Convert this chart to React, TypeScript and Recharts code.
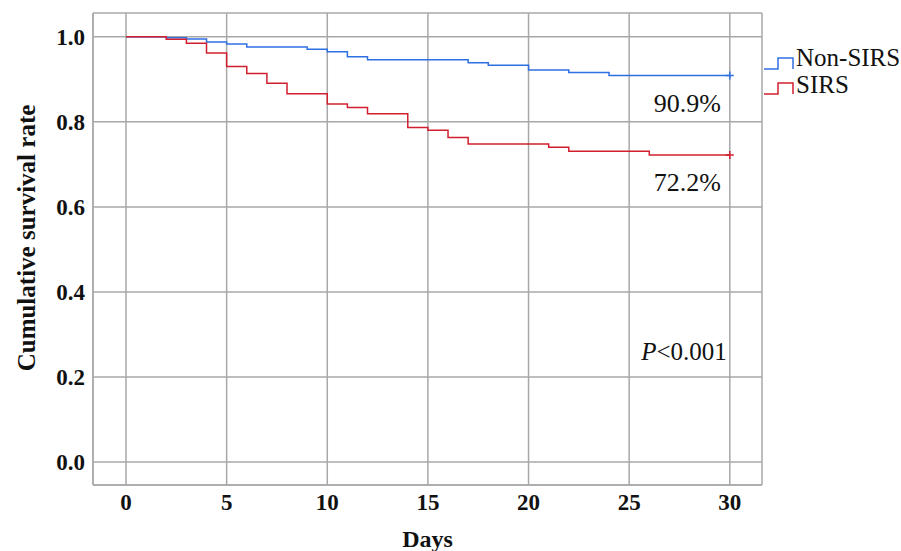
import * as React from 'react';
import {
  LineChart,
  Line,
  XAxis,
  YAxis,
  CartesianGrid,
  ReferenceDot,
} from 'recharts';

// Kaplan-Meier steps
const nonSirsDays = [0, 2, 3, 4, 5, 6, 9, 10, 11, 12, 17, 18, 20, 22, 24, 30];
const nonSirsSurvival = [1.0, 0.998, 0.995, 0.988, 0.983, 0.976, 0.971, 0.965, 0.953, 0.946, 0.939, 0.933, 0.922, 0.916, 0.909, 0.909];

const sirsDays = [0, 2, 3, 4, 5, 6, 7, 8, 10, 11, 12, 14, 15, 16, 17, 21, 22, 26, 30];
const sirsSurvival = [1.0, 0.994, 0.985, 0.962, 0.93, 0.914, 0.891, 0.866, 0.842, 0.834, 0.819, 0.787, 0.78, 0.763, 0.748, 0.74, 0.731, 0.722, 0.722];

const xTicks = [0, 5, 10, 15, 20, 25, 30];
const yTicks = [0, 0.2, 0.4, 0.6, 0.8, 1.0];

const seriesNames = ['Non-SIRS', 'SIRS'];
const endLabels = ['90.9%', '72.2%'];
const pValueText = '<0.001';

const BLUE = '#2f6fe4';
const RED = '#d21f2f';
const GRID = '#a8a8a8';
const FONT = '"Liberation Serif", "Times New Roman", serif';

const nonSirsData = nonSirsDays.map((d, i) => ({ day: d, value: nonSirsSurvival[i] }));
const sirsData = sirsDays.map((d, i) => ({ day: d, value: sirsSurvival[i] }));

function censorDot(color: string, label: string, count: number) {
  return (props: any) => {
    const { cx, cy, index } = props;
    if (index !== count - 1) return <g key={`d-${index}`} />;
    return (
      <g key={`d-${index}`}>
        <line x1={cx} x2={cx} y1={cy - 4} y2={cy + 4} stroke={color} strokeWidth={1.5} />
        <line x1={cx - 4} x2={cx + 4} y1={cy} y2={cy} stroke={color} strokeWidth={1.5} />
        <text x={cx - 9} y={cy + 36} textAnchor="end" fontFamily={FONT} fontSize={26} fill="#111">
          {label}
        </text>
      </g>
    );
  };
}

function Legend() {
  return (
    <svg width={140} height={60} style={{ position: 'absolute', left: 762, top: 40 }}>
      <path d="M2,29 H16 V18 H31 V29" fill="none" stroke={BLUE} strokeWidth={1.5} />
      <text x={34} y={26} fontFamily={FONT} fontSize={25} fill="#111">{seriesNames[0]}</text>
      <path d="M2,54 H16 V43 H31 V54" fill="none" stroke={RED} strokeWidth={1.5} />
      <text x={34} y={53} fontFamily={FONT} fontSize={25} fill="#111">{seriesNames[1]}</text>
    </svg>
  );
}

export default function App() {
  const tickStyle = { fontFamily: FONT, fontSize: 23, fontWeight: 700, fill: '#111' };
  return (
    <div style={{ position: 'absolute', left: 0, top: 0, width: 901, height: 551, background: '#fff' }}>
      <LineChart width={901} height={551} margin={{ top: 13, right: 139, bottom: 0, left: 0 }}>
        <CartesianGrid stroke={GRID} strokeWidth={1.5} />
        <XAxis
          type="number"
          dataKey="day"
          domain={[-1.64, 31.6]}
          ticks={xTicks}
          allowDataOverflow
          height={66}
          tickSize={0}
          tickMargin={9}
          axisLine={{ stroke: GRID, strokeWidth: 1.5 }}
          tick={tickStyle}
          label={{
            content: ({ viewBox }: any) => (
              <text
                x={viewBox.x + viewBox.width / 2}
                y={547}
                textAnchor="middle"
                fontFamily={FONT}
                fontSize={24}
                fontWeight={700}
                fill="#111"
              >
                Days
              </text>
            ),
          }}
        />
        <YAxis
          type="number"
          dataKey="value"
          domain={[-0.054, 1.056]}
          ticks={yTicks}
          allowDataOverflow
          width={93}
          tickSize={0}
          tickMargin={8}
          axisLine={{ stroke: GRID, strokeWidth: 1.5 }}
          tick={tickStyle}
          tickFormatter={(v: number) => v.toFixed(1)}
          label={{
            content: () => (
              <text
                x={0}
                y={0}
                transform="translate(35 238) rotate(-90)"
                textAnchor="middle"
                fontFamily={FONT}
                fontSize={25}
                fontWeight={700}
                fill="#111"
              >
                Cumulative survival rate
              </text>
            ),
          }}
        />
        <Line
          data={nonSirsData}
          dataKey="value"
          type="stepAfter"
          stroke={BLUE}
          strokeWidth={1.5}
          dot={censorDot(BLUE, endLabels[0], nonSirsData.length)}
          activeDot={false}
          isAnimationActive={false}
        />
        <Line
          data={sirsData}
          dataKey="value"
          type="stepAfter"
          stroke={RED}
          strokeWidth={1.5}
          dot={censorDot(RED, endLabels[1], sirsData.length)}
          activeDot={false}
          isAnimationActive={false}
        />
        <ReferenceDot
          x={30}
          y={0.26}
          r={0}
          fill="none"
          stroke="none"
          label={{
            content: ({ viewBox }: any) => (
              <text x={viewBox.x - 3} y={viewBox.y + 9} textAnchor="end" fontFamily={FONT} fontSize={25} fill="#111">
                <tspan fontStyle="italic">P</tspan>
                {pValueText}
              </text>
            ),
          }}
        />
      </LineChart>
      <Legend />
    </div>
  );
}
